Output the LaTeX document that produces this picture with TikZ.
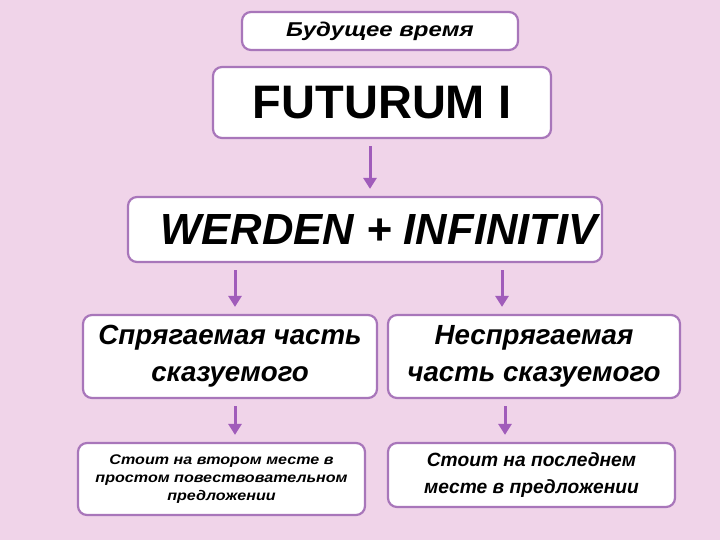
\documentclass[tikz,border=0pt]{standalone}
\usepackage{fontspec}
\setmainfont{Liberation Sans}
\newfontfamily\widesans[FakeStretch=1.2]{Liberation Sans}
\newfontfamily\midsans[FakeStretch=1.15]{Liberation Sans}
\usetikzlibrary{arrows.meta}
\definecolor{bgpink}{RGB}{240,212,233}
\definecolor{boxline}{RGB}{168,118,186}
\definecolor{arrowc}{RGB}{160,92,186}
\tikzset{
  boxnode/.style={draw=boxline, line width=2.2pt, fill=white, rounded corners=9pt,
    inner sep=0pt, align=center, text=black},
  arr/.style={draw=arrowc, line width=3pt, -{Triangle[width=13pt,length=11pt]}, shorten <=7pt, shorten >=7pt}
}
\begin{document}
\begin{tikzpicture}[x=1pt,y=-1pt]
\useasboundingbox (0,0) rectangle (720,540);
\fill[bgpink] (0,0) rectangle (720,540);
\node[boxnode, minimum width=276pt, minimum height=38pt,
  font=\widesans\fontsize{20}{24}\selectfont\bfseries\itshape] (b1) at (380,31)
  {Будущее время};
\node[boxnode, minimum width=338pt, minimum height=71pt,
  font=\fontsize{47}{50}\selectfont\bfseries] (b2) at (382,102.5)
  {FUTURUM I};
\node[boxnode, minimum width=474pt, minimum height=65pt] (b3) at (365,229.5) {};
\node[font=\fontsize{43.6}{48}\selectfont\bfseries\itshape, inner sep=0pt] (t3) at (379,229.5)
  {WERDEN + INFINITIV};
\node[boxnode, minimum width=294pt, minimum height=83pt,
  font=\fontsize{27.7}{37}\selectfont\bfseries\itshape] (b4) at (230,356.5)
  {Спрягаемая часть\\сказуемого};
\node[boxnode, minimum width=292pt, minimum height=83pt,
  font=\fontsize{27.7}{37}\selectfont\bfseries\itshape] (b5) at (534,356.5)
  {Неспрягаемая\\часть сказуемого};
\node[boxnode, minimum width=287pt, minimum height=72pt,
  font=\midsans\fontsize{14}{18}\selectfont\bfseries\itshape] (b6) at (221.5,479)
  {Стоит на втором месте в\\простом повествовательном\\предложении};
\node[boxnode, minimum width=287pt, minimum height=64pt,
  font=\fontsize{19.2}{27}\selectfont\bfseries\itshape] (b7) at (531.5,475)
  {Стоит на последнем\\месте в предложении};
\draw[arr] ([xshift=-12pt]b2.south) -- ([xshift=-12pt]b2.south |- b3.north);
\draw[arr] ([xshift=5pt]b4.north |- b3.south) -- ([xshift=5pt]b4.north);
\draw[arr] ([xshift=-32pt]b5.north |- b3.south) -- ([xshift=-32pt]b5.north);
\draw[arr] ([xshift=5pt]b4.south) -- ([xshift=5pt]b4.south |- b6.north);
\draw[arr] ([xshift=-29pt]b5.south) -- ([xshift=-29pt]b5.south |- b7.north);
\end{tikzpicture}
\end{document}
